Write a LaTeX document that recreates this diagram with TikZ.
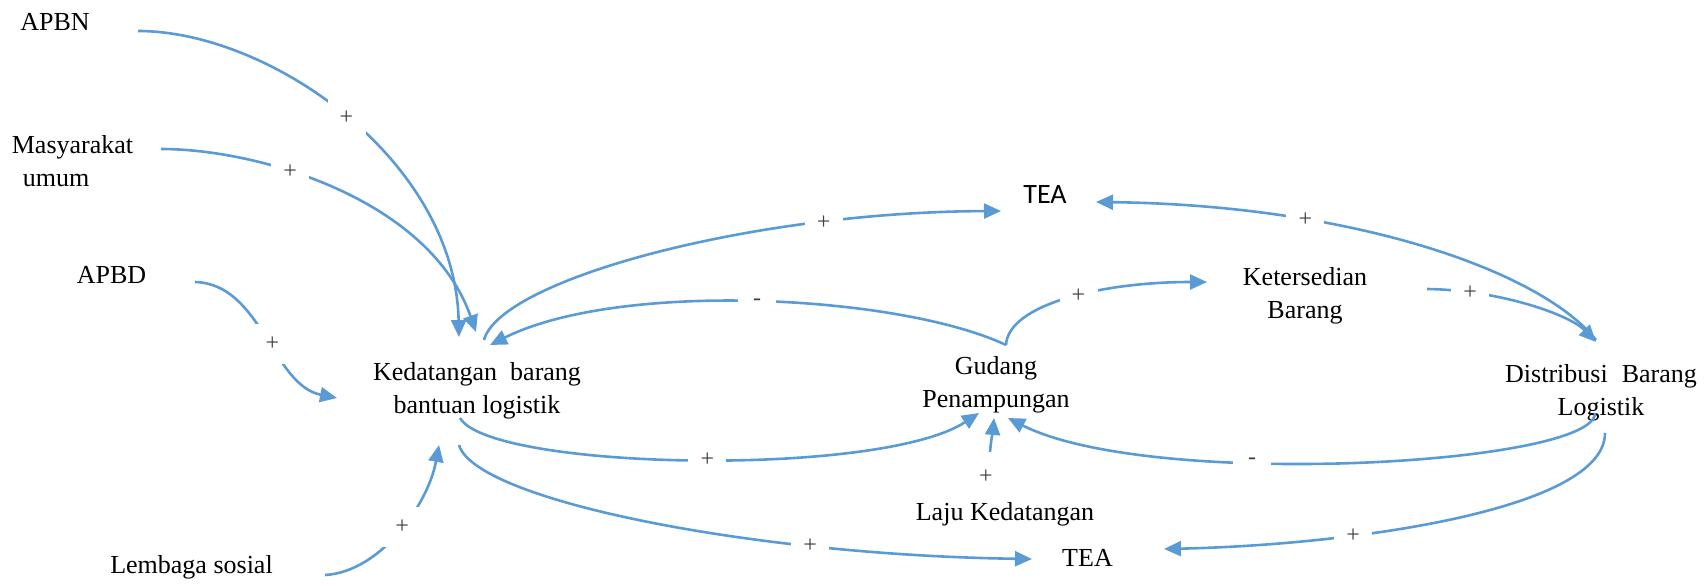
\documentclass[tikz,border=0pt]{standalone}
\usepackage{fontspec}
\setmainfont{Liberation Serif}
\setsansfont{Liberation Sans}
\newfontfamily\calib{Carlito}
\usetikzlibrary{arrows.meta}
\definecolor{lineblue}{HTML}{5B9BD5}
\definecolor{signgray}{HTML}{404040}
\tikzset{
  lbl/.style={font=\rmfamily\fontsize{26}{33}\selectfont, inner sep=0pt, align=center},
  cl/.style={draw=lineblue, line width=2.6pt, -{Triangle[length=17pt,width=15pt]}},
  sgn/.style={font=\rmfamily\fontsize{24}{24}\selectfont, text=signgray, fill=white, minimum width=38pt, minimum height=40pt, inner sep=0pt},
  sgnfree/.style={font=\rmfamily\fontsize{24}{24}\selectfont, text=signgray, inner sep=0pt}
}
\begin{document}
\begin{tikzpicture}[x=1pt,y=-1pt]
\useasboundingbox (0,0) rectangle (1708,588);
% nodes
\node[lbl] (apbn) at (55,22.4) {APBN};
\node[lbl, align=left] (masy) at (72.5,161) {Masyarakat\\\hspace*{11pt}umum};
\node[lbl] (apbd) at (111.5,275.4) {APBD};
\node[lbl] (ked) at (477,390.4) {Kedatangan\hspace{13pt}barang\\bantuan logistik};
\node[lbl] (lem) at (191.5,566.9) {Lembaga sosial};
\node[lbl, font=\calib\fontsize{28}{33}\selectfont] (teat) at (1045,195) {TEA};
\node[lbl] (gud) at (996,385) {Gudang\\Penampungan};
\node[lbl] (laju) at (1005,513.9) {Laju Kedatangan};
\node[lbl] (teab) at (1087.5,558.4) {TEA};
\node[lbl] (ket) at (1305,295.4) {Ketersedian\\Barang};
\node[lbl] (dis) at (1601,392.4) {Distribusi\hspace{14pt}Barang\\Logistik};
% connectors
\draw[cl] ([shift={(83,8.6)}]apbn.center) .. controls (270,31) and (455,160) .. node[sgn,pos=0.5] (p1) {+} ([shift={(-18,-53.4)}]ked.center);
\draw[cl] ([shift={(88.5,-12)}]masy.center) .. controls (260,149) and (430,200) .. node[sgn,pos=0.37] (p2) {+} ([shift={(-1,-58.4)}]ked.center);
\draw[cl] ([shift={(83.5,6.6)}]apbd.center) .. controls (262,284) and (272,385) .. node[sgn,pos=0.55] (p3) {+} ([shift={(-140,7.6)}]ked.center);
\draw[cl] ([shift={(133.5,8.1)}]lem.center) .. controls (380,572) and (428,505) .. node[sgn,pos=0.53] (p4) {+} ([shift={(-38,54.6)}]ked.center);
\draw[cl] ([shift={(7,-50.4)}]ked.center) .. controls (500,280) and (750,212) .. node[sgn,pos=0.76] (p5) {+} ([shift={(-44,16)}]teat.center);
\draw[cl] ([shift={(10,-40)}]gud.center) .. controls (900,295) and (620,280) .. node[sgn,pos=0.5] (p6) {-} ([shift={(13,-45.4)}]ked.center);
\draw[cl] ([shift={(10,-40)}]gud.center) .. controls (1008,305) and (1100,282) .. node[sgn,pos=0.55] (p7) {+} ([shift={(-98,-13.4)}]ket.center);
\draw[cl] ([shift={(122,-6.4)}]ket.center) .. controls (1500,290) and (1570,315) .. node[sgn,pos=0.2] (p8) {+} ([shift={(-5,-50.4)}]dis.center);
\draw[cl] ([shift={(-5,-52.4)}]dis.center) .. controls (1540,270) and (1350,205) .. node[sgn,pos=0.7] (p9) {+} ([shift={(51,7)}]teat.center);
\draw[cl] ([shift={(-17,27.6)}]ked.center) .. controls (490,470) and (880,478) .. node[sgn,pos=0.52] (p10) {+} ([shift={(-17,28)}]gud.center);
\draw[cl] ([shift={(-18,54.6)}]ked.center) .. controls (475,500) and (750,555) .. node[sgn,pos=0.73] (p11) {+} ([shift={(-55.5,0.6)}]teab.center);
\draw[cl] ([shift={(-6,20.6)}]dis.center) .. controls (1595,465) and (1150,490) .. node[sgn,pos=0.63] (p12) {-} ([shift={(12,33)}]gud.center);
\draw[cl] ([shift={(4,40.6)}]dis.center) .. controls (1605,510) and (1350,545) .. node[sgn,pos=0.68] (p13) {+} ([shift={(76.5,-9.4)}]teab.center);
\draw[cl] ([shift={(-15,-61.9)}]laju.center) .. controls (991,440) and (993,430) .. ([shift={(-2,33)}]gud.center);
\node[sgnfree] (p14) at (986,477) {+};
\end{tikzpicture}
\end{document}
